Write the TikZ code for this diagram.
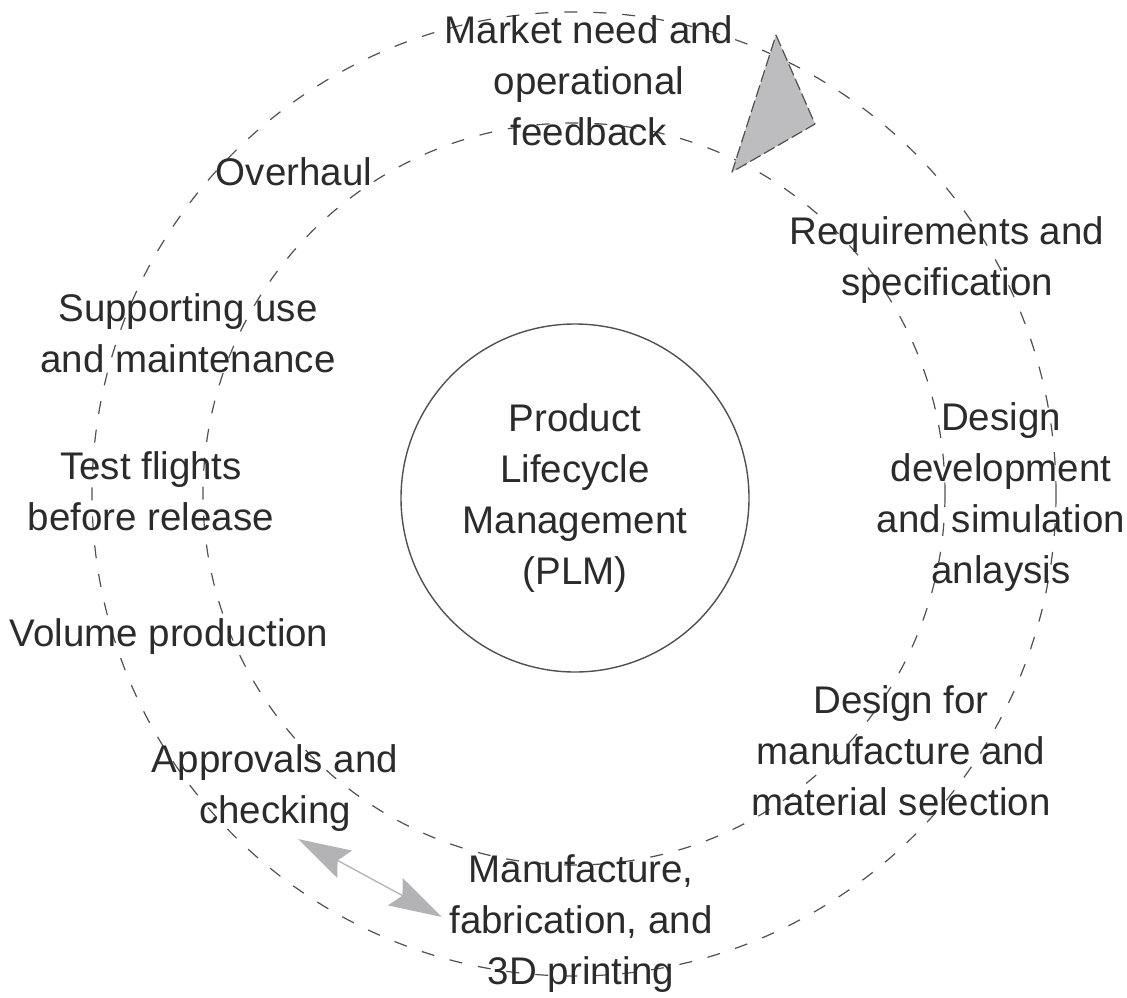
\documentclass[tikz,border=0pt]{standalone}
\usepackage{fontspec}
\setmainfont{Liberation Sans}
\usetikzlibrary{arrows.meta}
\definecolor{ringgray}{HTML}{505050}
\definecolor{trifill}{HTML}{BDBDBF}
\definecolor{arrgray}{HTML}{B3B3B5}
\definecolor{txt}{HTML}{2B2B2B}
\begin{document}
\begin{tikzpicture}[x=1pt,y=-1pt,
  ring/.style={draw=ringgray, line width=1.2pt, dash pattern=on 13pt off 16pt},
  lbl/.style={font=\fontsize{38.5}{51}\selectfont, text=txt, align=center, inner sep=0pt},
  hub/.style={circle, draw=ringgray, line width=1.4pt, minimum size=348pt},
  twoway/.style={draw=arrgray, fill=arrgray, line width=1.3pt,
    {Stealth[length=53pt, width=31pt, inset=8pt]}-{Stealth[length=53pt, width=31pt, inset=8pt]}},
  pointer/.style={draw=ringgray, fill=trifill, line width=1.2pt, dash pattern=on 12pt off 4pt, line join=round}
 ]
\useasboundingbox (0,0) rectangle (1127,998);
\coordinate (c) at (574,494);
% rings
\draw[ring] (c) circle[radius=482];
\draw[ring] (c) circle[radius=371];
% direction pointer
\draw[pointer] (776,35) -- (815,124) -- (732,172) -- cycle;
% hub
\node[hub, lbl] (plm) at (575,498) {Product\\Lifecycle\\Management\\(PLM)};
% labels
\node[lbl] (market) at (589,81) {Market need and\\operational\\feedback};
\node[lbl] (overhaul) at (294,172) {Overhaul};
\node[lbl] (support) at (188,333) {Supporting use\\and maintenance};
\node[lbl] (test) at (151,491) {Test flights\\before release};
\node[lbl] (volume) at (169,637) {Volume production};
\node[lbl] (approv) at (275,788) {Approvals and\\checking};
\node[lbl] (manuf) at (581,924) {Manufacture,\\fabrication, and\\3D printing};
\node[lbl] (req) at (947,260) {Requirements and\\specification};
\node[lbl] (design) at (1001,497) {Design\\development\\and simulation\\anlaysis};
\node[lbl] (dfm) at (901,751) {Design for\\manufacture and\\material selection};
% two-way arrow
\coordinate (a1) at (298,839);
\coordinate (a2) at (442,917);
\draw[twoway] (a1) -- (a2);
\end{tikzpicture}
\end{document}
